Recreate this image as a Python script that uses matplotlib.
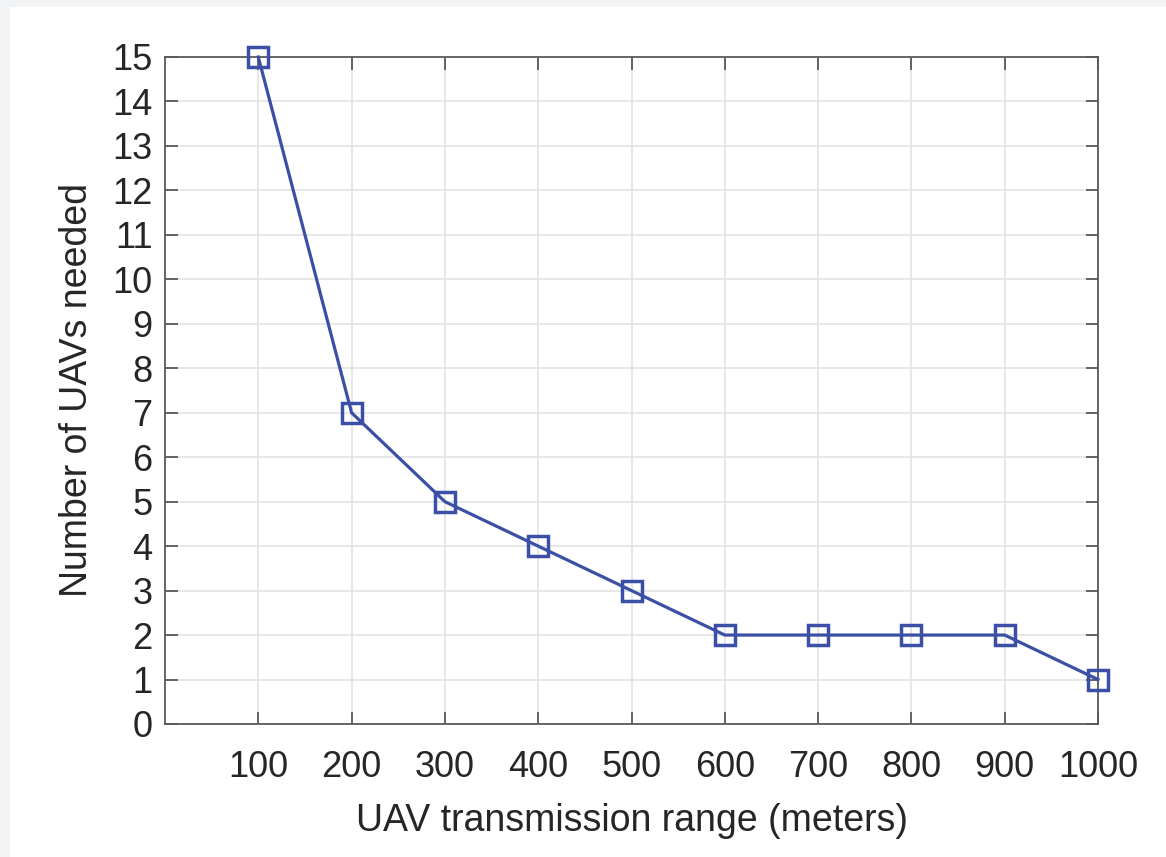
import numpy as np
import matplotlib.pyplot as plt
from matplotlib.patches import Rectangle

# data
ranges = [100, 200, 300, 400, 500, 600, 700, 800, 900, 1000]
uavs = [15, 7, 5, 4, 3, 2, 2, 2, 2, 1]

plt.rcParams['font.family'] = ['Liberation Sans', 'DejaVu Sans']

fig = plt.figure(figsize=(11.66, 8.57), dpi=100)
fig.patch.set_facecolor('#f2f3f5')
# white page on the grey screenshot background
fig.patches.append(Rectangle((10 / 1166, 0), 1, 1 - 7 / 857, transform=fig.transFigure,
                             facecolor='white', edgecolor='none', zorder=-1))

ax = fig.add_axes([0.1415, 0.1552, 0.8002, 0.7783])
ax.set_zorder(2)
ax.plot(ranges, uavs, color='#3b4fa6', linewidth=2.3, marker='s', markersize=14,
        markerfacecolor='none', markeredgewidth=2.5, clip_on=False, zorder=5)

ax.set_xlim(0, 1000)
ax.set_ylim(0, 15)
ax.set_xticks(ranges)
ax.set_yticks(np.arange(0, 16))
ax.grid(True, color='#e3e3e3', linewidth=1.2)
ax.set_axisbelow(True)

for s in ax.spines.values():
    s.set_color('#595959')
    s.set_linewidth(1.3)
ax.tick_params(direction='in', length=9, width=1.3, color='#595959',
               top=True, right=True, labelsize=26, labelcolor='#262626', pad=9)
ax.tick_params(axis='x', pad=19)

ax.set_xlabel('UAV transmission range (meters)', fontsize=27, color='#262626', labelpad=13)
ax.set_ylabel('Number of UAVs needed', fontsize=27, color='#262626', labelpad=12)

fig.savefig('out.png', dpi=100, facecolor=fig.get_facecolor())
